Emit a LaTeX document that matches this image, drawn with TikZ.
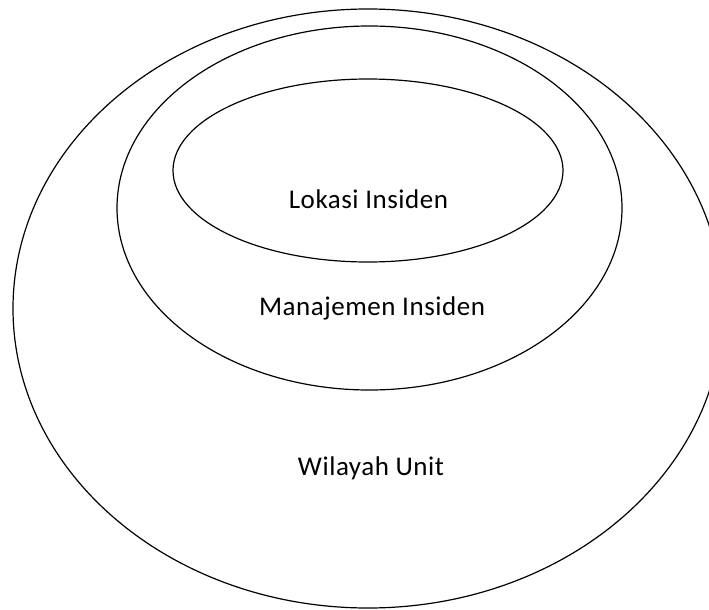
\documentclass[tikz,border=0pt]{standalone}
\usepackage{fontspec}
\setmainfont{Carlito}[LetterSpace=2]
\begin{document}
\begin{tikzpicture}[x=1pt,y=-1pt,
  ring/.style={draw=black,line width=1.2pt},
  label/.style={anchor=base,inner sep=0pt,font=\fontsize{27}{32}\selectfont}]
\useasboundingbox (0,0) rectangle (709,610);
% nested zones
\draw[ring] (368,308.5) ellipse [x radius=355,y radius=299.5];
\draw[ring] (369.5,208) ellipse [x radius=252.5,y radius=182];
\draw[ring] (368,170.5) ellipse [x radius=195,y radius=91.5];
% zone names
\node[label] (lokasi) at (368.5,208) {Lokasi Insiden};
\node[label] (manajemen) at (372,315) {Manajemen Insiden};
\node[label] (wilayah) at (371,475) {Wilayah Unit};
\end{tikzpicture}
\end{document}
